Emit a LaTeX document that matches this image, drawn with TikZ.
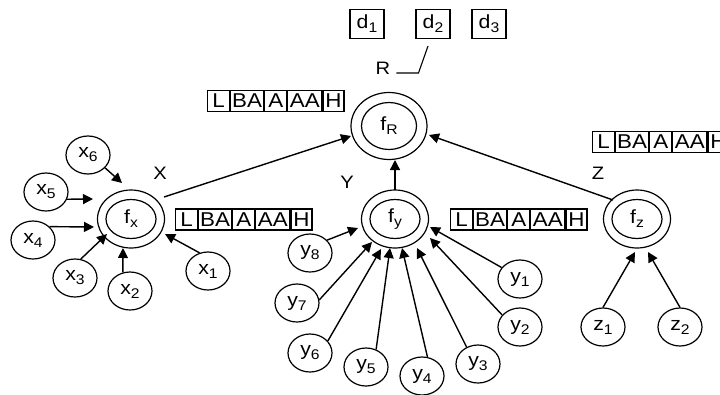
\documentclass[tikz,border=0pt]{standalone}
\usepackage{fontspec}
\setmainfont{Liberation Sans}[FakeStretch=1.12]
\usetikzlibrary{shapes.geometric,arrows.meta}

% lowered, smaller index text
\newcommand{\lsub}[1]{\raisebox{-4pt}{\fontsize{14}{14}\selectfont #1}}

\tikzset{
  leaf/.style={draw, ellipse, line width=1.2pt, minimum width=44pt, minimum height=38pt,
    inner sep=0pt, font=\fontsize{19}{19}\selectfont},
  fouter/.style={draw, ellipse, line width=1.2pt, minimum width=67pt, minimum height=58pt, inner sep=0pt},
  finner/.style={draw, ellipse, line width=1.2pt, minimum width=50pt, minimum height=39pt,
    inner sep=0pt, font=\fontsize{19}{19}\selectfont},
  arr/.style={-{Triangle[length=10pt,width=10pt]}, line width=1.4pt},
  dbox/.style={draw, line width=1.1pt, minimum width=34pt, minimum height=29pt, inner sep=0pt,
    font=\fontsize{19}{19}\selectfont},
  tag/.style={inner sep=0pt, font=\fontsize{18}{18}\selectfont},
  cell/.style={draw, line width=1.1pt, anchor=west, minimum height=21pt, inner sep=0pt,
    font=\fontsize{20}{20}\selectfont},
  lbrow/.pic={
    \node[cell, minimum width=22pt] (-c1) at (0,0) {L};
    \node[cell, minimum width=33pt] (-c2) at (-c1.east) {BA};
    \node[cell, minimum width=22pt] (-c3) at (-c2.east) {A};
    \node[cell, minimum width=34pt] (-c4) at (-c3.east) {AA};
    \node[cell, minimum width=21pt] (-c5) at (-c4.east) {H};
  }
}

\begin{document}
\begin{tikzpicture}[x=1pt, y=-1pt]
\useasboundingbox (0,0) rectangle (720,394);
\fill[white] (0,0) rectangle (720,394);

% decision boxes and the R link
\node[dbox] (d1) at (367,24) {d\lsub{1}};
\node[dbox] (d2) at (433,24) {d\lsub{2}};
\node[dbox] (d3) at (489,24) {d\lsub{3}};
\node[tag] (R) at (383,68) {R};
\draw[line width=1.1pt] ([xshift=6pt,yshift=-5pt]R.east) -- ++(22,0) -- ([xshift=-5pt,yshift=-7pt]d2.south);

% aggregation nodes
\node[fouter, minimum width=76pt, minimum height=67pt] (fR) at (389,126) {};
\node[finner, minimum width=55pt, minimum height=47pt] (fR-in) at (fR) {f\lsub{R}};
\node[fouter] (fx) at (131,219) {};
\node[finner] (fx-in) at (fx) {f\lsub{x}};
\node[fouter] (fy) at (395,219) {};
\node[finner] (fy-in) at (fy) {f\lsub{y}};
\node[fouter] (fz) at (637,219) {};
\node[finner] (fz-in) at (fz) {f\lsub{z}};

% group labels
\node[tag] (X) at (160,173) {X};
\node[tag] (Y) at (347,182) {Y};
\node[tag] (Z) at (598,173) {Z};

% linguistic label rows
\pic (t1) at (207,101) {lbrow};
\pic (t2) at (175,219.5) {lbrow};
\pic (t3) at (450,219.5) {lbrow};
\pic (t4) at (592,142) {lbrow};

% input variables
\node[leaf] (x6) at (88,155) {x\lsub{6}};
\node[leaf] (x5) at (46,192) {x\lsub{5}};
\node[leaf] (x4) at (33,240) {x\lsub{4}};
\node[leaf] (x3) at (75,278) {x\lsub{3}};
\node[leaf] (x2) at (130,291) {x\lsub{2}};
\node[leaf] (x1) at (208,271) {x\lsub{1}};

\node[leaf] (y8) at (310,253) {y\lsub{8}};
\node[leaf] (y7) at (297,303) {y\lsub{7}};
\node[leaf] (y6) at (310,353) {y\lsub{6}};
\node[leaf] (y5) at (366,367) {y\lsub{5}};
\node[leaf] (y4) at (422,376) {y\lsub{4}};
\node[leaf] (y3) at (478,364) {y\lsub{3}};
\node[leaf] (y2) at (520,327) {y\lsub{2}};
\node[leaf] (y1) at (520,279) {y\lsub{1}};

\node[leaf] (z1) at (603,327) {z\lsub{1}};
\node[leaf] (z2) at (680,327) {z\lsub{2}};

% inputs into f_x
\draw[arr] (x6.-37) -- ([shift={(-9,-36)}]fx.center);
\draw[arr] (x5.-19) -- ([shift={(-38,-20)}]fx.center);
\draw[arr] (x4.39) -- ([shift={(-37,8)}]fx.center);
\draw[arr] (x3.73) -- ([shift={(-24,15)}]fx.center);
\draw[arr] (x2.111) -- ([shift={(-8,29)}]fx.center);
\draw[arr] (x1.115) -- ([shift={(34,15)}]fx.center);

% inputs into f_y
\draw[arr] (y8.37) -- ([shift={(-37,9)}]fy.center);
\draw[arr] (y7.8) -- ([shift={(-23,23)}]fy.center);
\draw[arr] (y6.34) -- ([shift={(-14,30)}]fy.center);
\draw[arr] (y5.60) -- ([shift={(-5,29)}]fy.center);
\draw[arr] (y4.74) -- ([shift={(7,29)}]fy.center);
\draw[arr] (y3.124) -- ([shift={(22,29)}]fy.center);
\draw[arr] (y2.146) -- ([shift={(35,19)}]fy.center);
\draw[arr] (y1.148) -- ([shift={(35,8)}]fy.center);

% inputs into f_z
\draw[arr] (z1.90) -- ([shift={(-2,33)}]fz.center);
\draw[arr] (z2.90) -- ([shift={(11,33)}]fz.center);

% sub-results into f_R
\draw[arr] ([shift={(33,-22)}]fx.center) -- ([shift={(-38,10)}]fR.center);
\draw[arr] ([shift={(0,-29)}]fy.center) -- ([shift={(6,34)}]fR.center);
\draw[arr] ([shift={(-24,-19)}]fz.center) -- ([shift={(40,9)}]fR.center);
\end{tikzpicture}
\end{document}
